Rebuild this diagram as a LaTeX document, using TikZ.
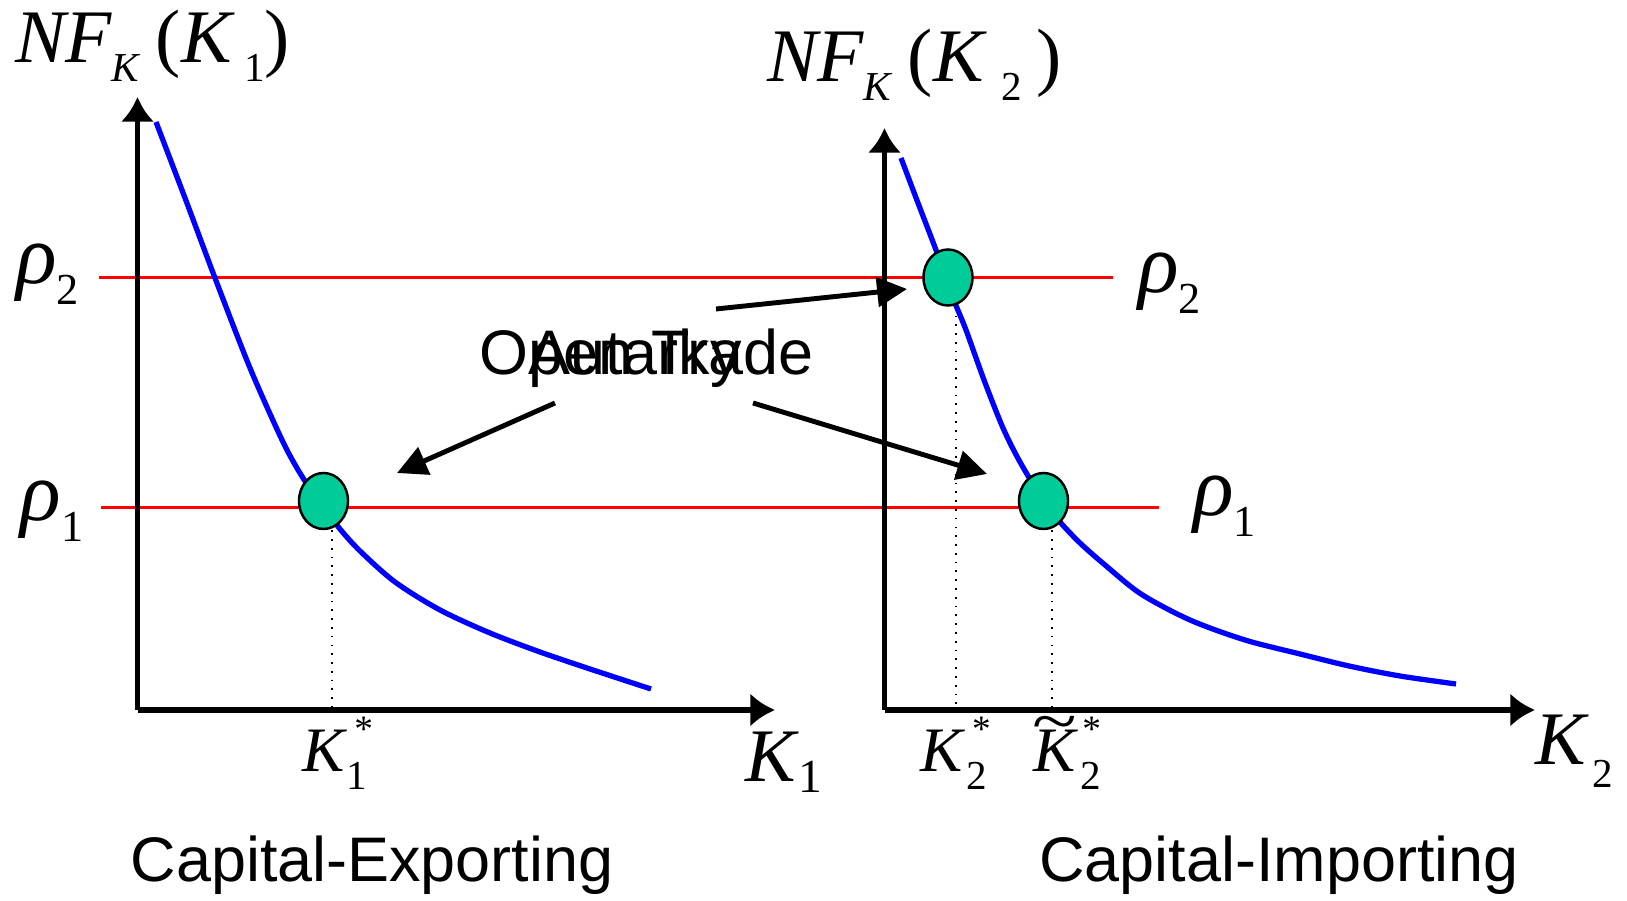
\documentclass[tikz,border=0pt]{standalone}
\usepackage{fontspec}
\setmainfont{Liberation Serif}
\newfontfamily\tnr{Liberation Serif}
\newfontfamily\sansfam{Liberation Sans}
\usetikzlibrary{arrows.meta,shapes.geometric}
\definecolor{eqgreen}{RGB}{0,204,153}
\newcommand\szbig{\tnr\fontsize{21.5}{24}\selectfont}
\newcommand\szrho{\tnr\fontsize{24}{26}\selectfont}
\newcommand\szsub{\tnr\fontsize{11.7}{13}\selectfont}
\newcommand\szsubr{\tnr\fontsize{12.6}{14}\selectfont}
\newcommand\szmid{\tnr\fontsize{18}{20}\selectfont}
\newcommand\szstar{\tnr\fontsize{10.6}{12}\selectfont}
\newcommand\szsans{\sansfam\fontsize{17.9}{20}\selectfont}
\newcommand\lowr[2]{\raisebox{-#1}{#2}}
\begin{document}
\begin{tikzpicture}[x=0.01cm,y=-0.01cm,
  axisline/.style={line width=1.45pt,-{Latex[length=7pt,width=9.5pt]}},
  rline/.style={red,line width=0.85pt},
  bcurve/.style={blue,line width=1.5pt},
  dotline/.style={dotted,line width=0.5pt},
  eqpt/.style={ellipse,draw=black,line width=0.7pt,fill=eqgreen,minimum width=0.49cm,minimum height=0.56cm,inner sep=0pt},
  ptr/.style={line width=1.4pt,-{Triangle[length=8.5pt,width=8.3pt]}},
  lbl/.style={inner sep=0pt,outer sep=0pt,anchor=base west,font=\tnr},
  captxt/.style={inner sep=0pt,outer sep=0pt,anchor=base,font=\szsans}]
\useasboundingbox (0,0) rectangle (1627,901);

% red price lines
\coordinate (r2a) at (99,278);
\coordinate (r2b) at (1113,278);
\coordinate (r1a) at (101,508);
\coordinate (r1b) at (1159,508);
\draw[rline] (r2a) -- (r2b);
\draw[rline] (r1a) -- (r1b);

% blue curves
\draw[bcurve] plot[smooth] coordinates {(156,122) (185,198) (215,278) (250,368) (283,442) (303,478) (323,506) (340,529) (360,551) (395,582) (440,610) (490,633) (540,652) (590,669) (651,689)};
\draw[bcurve] plot[smooth] coordinates {(901,158) (918,203) (936,250) (946,278) (955,303) (966,330) (984,380) (1003,428) (1020,462) (1043,500) (1060,522) (1080,543) (1105,565) (1141,594) (1190,620) (1245,640) (1300,654) (1349,666) (1400,676) (1456,684)};

% axes
\coordinate (o1) at (137.5,710);
\coordinate (y1) at (137.5,97);
\coordinate (x1) at (775,710);
\coordinate (o2) at (884.5,710);
\coordinate (y2) at (884.5,128);
\coordinate (x2) at (1535,710);
\draw[axisline] (o1) -- (y1);
\draw[axisline] (o1) -- (x1);
\draw[axisline] (o2) -- (y2);
\draw[axisline] (o2) -- (x2);

% equilibria
\node[eqpt] (e1) at (323.5,501) {};
\node[eqpt] (e2) at (948,277.5) {};
\node[eqpt] (e3) at (1043.5,501) {};
\coordinate (d1) at (332,710);
\coordinate (d2) at (956,710);
\coordinate (d3) at (1052,710);
\draw[dotline] (e1.south -| d1) -- (d1);
\draw[dotline] (e2.south -| d2) -- (d2);
\draw[dotline] (e3.south -| d3) -- (d3);

% axis titles
\node[lbl] (nf1) at (15,63) {\szbig\itshape NF\lowr{5.4pt}{\szsub K}\hspace{4.8pt}\upshape(\itshape K\hspace{3.6pt}\lowr{5.4pt}{\szsub\upshape 1}\upshape)};
\node[lbl] (nf2) at (767,82) {\szbig\itshape NF\lowr{5.4pt}{\szsub K}\hspace{4.8pt}\upshape(\itshape K\hspace{5pt}\lowr{5.4pt}{\szsub\upshape 2}\hspace{4.2pt}\upshape)};
\node[lbl] (k1ax) at (745,782) {\szbig\itshape K\hspace{1pt}\lowr{3.1pt}{\tnr\fontsize{13.5}{15}\selectfont\upshape 1}};
\node[lbl] (k2ax) at (1535,765) {\szbig\itshape K\hspace{2pt}\lowr{6.3pt}{\tnr\fontsize{11.7}{13}\selectfont\upshape 2}};

% rho labels
\node[lbl] (r2l) at (16,284) {\szrho\itshape ρ\lowr{5.7pt}{\szsubr\upshape 2}};
\node[lbl] (r1l) at (21,521) {\szrho\itshape ρ\lowr{5.7pt}{\szsubr\upshape 1}};
\node[lbl] (r2r) at (1138,293) {\szrho\itshape ρ\lowr{5.7pt}{\szsubr\upshape 2}};
\node[lbl] (r1r) at (1193,516) {\szrho\itshape ρ\lowr{5.7pt}{\szsubr\upshape 1}};

% K* labels
\node[lbl] (k1s) at (302,772) {\szmid\itshape K\hspace{0.6pt}\rlap{\lowr{5.1pt}{\szsub\upshape 1}}\hspace{2.3pt}\raisebox{8.8pt}{\szstar\upshape *}};
\node[lbl] (k2s) at (920,772) {\szmid\itshape K\hspace{1.1pt}\rlap{\lowr{5.1pt}{\szsub\upshape 2}}\hspace{1.7pt}\raisebox{8.8pt}{\szstar\upshape *}};
\node[lbl] (k2t) at (1033,772) {\szmid\itshape K\hspace{1.4pt}\rlap{\lowr{5.1pt}{\szsub\upshape 2}}\hspace{0.6pt}\raisebox{8.8pt}{\szstar\upshape *}};
\node[inner sep=0pt,anchor=base] (tl) at (1055,743) {\szmid\scalebox{1.3}[1.0]{\char"7E}};

% captions
\node[captxt] (exp) at (372,882) {Capital-Exporting};
\node[captxt] (imp) at (1279,882) {Capital-Importing};
\node[captxt] (open) at (646.5,375) {Open Trade};
\node[captxt] (aut) at (635,375) {Autarky};

% pointers
\coordinate (a1s) at (555,403);
\coordinate (a1t) at (397,473);
\coordinate (a2s) at (753,403);
\coordinate (a2t) at (987,474);
\coordinate (a3s) at (716,309);
\coordinate (a3t) at (907,289);
\draw[ptr] (a1s) -- (a1t);
\draw[ptr] (a2s) -- (a2t);
\draw[ptr] (a3s) -- (a3t);
\end{tikzpicture}
\end{document}
